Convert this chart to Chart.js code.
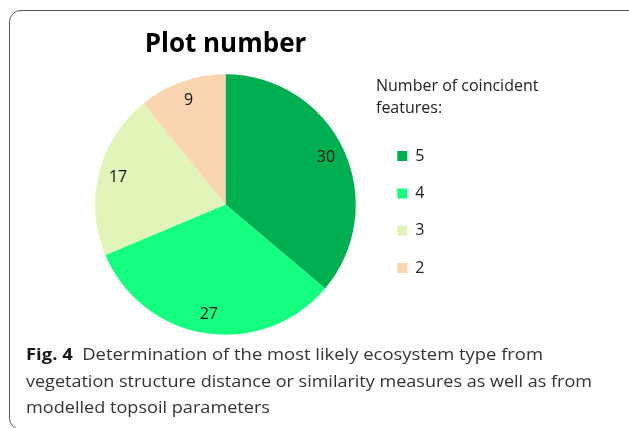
<!DOCTYPE html>
<html>
<head>
<meta charset="utf-8">
<script src="https://cdn.jsdelivr.net/npm/chart.js@4.4.0/dist/chart.umd.min.js"></script>
<style>
  html, body { margin:0; padding:0; background:#fff; width:629px; height:428px; overflow:hidden; }
  #frame { position:absolute; left:9px; top:10px; width:640px; height:420px; border:1.3px solid #555; border-radius:12px; box-sizing:border-box; }
  #chart { position:absolute; left:0; top:0; }
  .cap { position:absolute; left:26px; white-space:nowrap; font-family:'Open Sans', sans-serif; font-size:16.5px; line-height:26px; color:#333; transform-origin:0 50%; }
  .cap b { color:#1a1a1a; font-weight:700; }
</style>
</head>
<body>
<div id="frame"></div>
<canvas id="chart" width="629" height="428"></canvas>
<div class="cap" id="cap1" data-w="517" style="top:341px"><b>Fig. 4</b>&nbsp; Determination of the most likely ecosystem type from</div>
<div class="cap" id="cap2" data-w="566" style="top:367.5px">vegetation structure distance or similarity measures as well as from</div>
<div class="cap" id="cap3" data-w="244" style="top:394px">modelled topsoil parameters</div>
<script>
// ---- data ----
const categories = ['5', '4', '3', '2'];
const plotCounts = [30, 27, 17, 9];
const chartTitle = 'Plot number';
const legendTitle = ['Number of coincident', 'features:'];

// ---- data labels drawn from the library's arc elements ----
const sliceLabels = {
  id: 'sliceLabels',
  afterDatasetsDraw(chart) {
    const ctx = chart.ctx;
    const meta = chart.getDatasetMeta(0);
    const values = chart.data.datasets[0].data;
    ctx.save();
    ctx.font = '16px "Open Sans"';
    ctx.fillStyle = '#111';
    ctx.textAlign = 'center';
    ctx.textBaseline = 'middle';
    meta.data.forEach((arc, i) => {
      const p = arc.getProps(['x', 'y', 'startAngle', 'endAngle', 'outerRadius'], true);
      const mid = (p.startAngle + p.endAngle) / 2;
      const r = p.outerRadius * 0.85;
      ctx.fillText(String(values[i]), p.x + Math.cos(mid) * r, p.y + Math.sin(mid) * r);
    });
    ctx.restore();
  }
};

// let the legend (and its two-line title) draw past its narrow layout box
const widenLegend = {
  id: 'widenLegend',
  afterLayout(chart) {
    const lg = chart.legend;
    if (lg) { lg.right = chart.width; lg.width = lg.right - lg.left; }
  }
};

new Chart(document.getElementById('chart'), {
  type: 'pie',
  data: {
    labels: categories,
    datasets: [{
      data: plotCounts,
      backgroundColor: ['#00B050', '#14FF80', '#E2F5B8', '#FBD4B0'],
      borderWidth: 0,
      hoverBorderWidth: 0,
      hoverOffset: 0
    }]
  },
  options: {
    responsive: false,
    animation: false,
    events: [],
    layout: { padding: { left: 75, right: 203, top: 20, bottom: 93.2 } },
    plugins: {
      title: {
        display: true,
        text: chartTitle,
        fullSize: false,
        color: '#000',
        font: { family: 'Open Sans', size: 26, weight: 'bold', lineHeight: 1.2 },
        padding: { top: 9.4, bottom: 13.7 }
      },
      legend: {
        position: 'right',
        align: 'start',
        fullSize: false,
        maxWidth: 50,
        title: {
          display: true,
          text: legendTitle,
          position: 'start',
          color: '#222',
          font: { family: 'Open Sans', size: 16, lineHeight: 1.375 },
          padding: { top: 4, bottom: 26.5 }
        },
        labels: {
          boxWidth: 10,
          boxHeight: 10,
          padding: 21.3,
          color: '#222',
          font: { family: 'Open Sans', size: 16 }
        }
      },
      tooltip: { enabled: false }
    }
  },
  plugins: [sliceLabels, widenLegend]
});

// fit caption lines to the reference widths
document.querySelectorAll('.cap').forEach(el => {
  const w = el.getBoundingClientRect().width;
  const target = parseFloat(el.dataset.w);
  el.style.transform = 'scaleX(' + (target / w) + ')';
});
</script>
</body>
</html>
